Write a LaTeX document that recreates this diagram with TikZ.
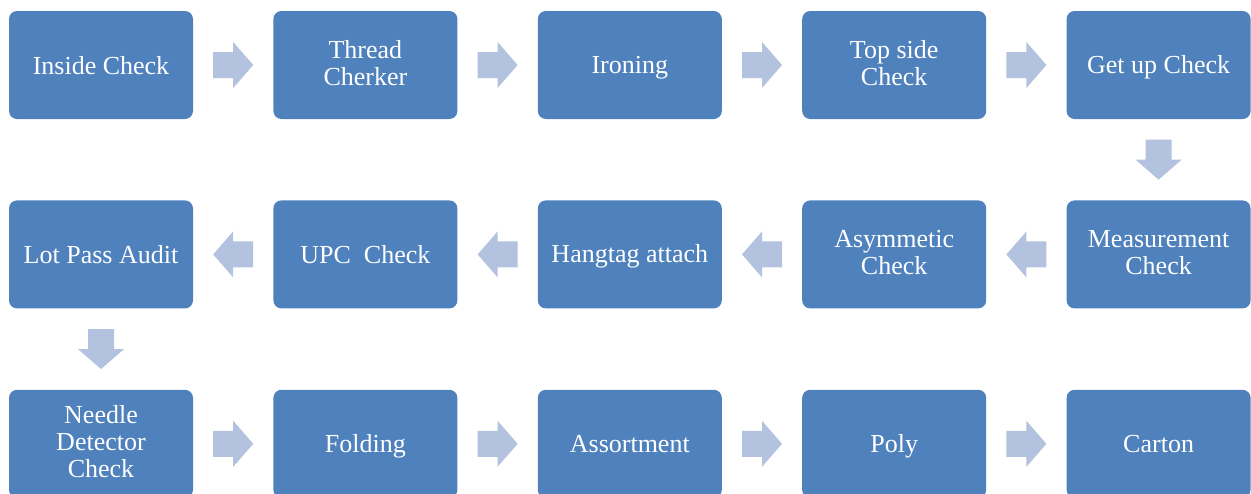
\documentclass[tikz,border=0pt]{standalone}
\usepackage{fontspec}
\setmainfont{Liberation Serif}
\newfontfamily\boxfont{Liberation Serif}
\usepackage{tikz}
\usetikzlibrary{calc,positioning}
\definecolor{boxc}{HTML}{4F81BD}
\definecolor{arrc}{HTML}{B3C2DE}
\tikzset{
  step box/.style={fill=boxc,draw=none,rounded corners=8pt,minimum width=184pt,minimum height=108pt,
    align=center,text=white,font=\boxfont\fontsize{26}{27}\selectfont,inner sep=2pt,
    execute at begin node={\rule{0pt}{22pt}},execute at end node={\rule[-4pt]{0pt}{4pt}}},
  pics/blkarr/.style={code={\fill[arrc] (-20pt,-13pt) -- (0pt,-13pt) -- (0pt,-23pt) -- (20pt,0pt)
    -- (0pt,23pt) -- (0pt,13pt) -- (-20pt,13pt) -- cycle;}}
}
\begin{document}
\begin{tikzpicture}[x=1pt,y=1pt]
\useasboundingbox (0,0) rectangle (1251,-493);
% first row
\node[step box] (inside) at (101,-65) {Inside Check};
\node[step box,right=80pt of inside] (thread) {Thread\\Cherker};
\node[step box,right=80pt of thread] (iron) {Ironing};
\node[step box,right=80pt of iron] (topside) {Top side\\Check};
\node[step box,right=80pt of topside] (getup) {Get up Check};
% second row
\node[step box,below=81pt of getup] (measure) {Measurement\\Check};
\node[step box,left=80pt of measure] (asym) {Asymmetic\\Check};
\node[step box,left=80pt of asym] (hangtag) {Hangtag attach};
\node[step box,left=80pt of hangtag] (upc) {UPC\ \ Check};
\node[step box,left=80pt of upc] (lotpass) {Lot Pass Audit};
% third row
\node[step box,below=81pt of lotpass] (needle) {Needle\\Detector\\Check};
\node[step box,right=80pt of needle] (fold) {Folding};
\node[step box,right=80pt of fold] (assort) {Assortment};
\node[step box,right=80pt of assort] (poly) {Poly};
\node[step box,right=80pt of poly] (carton) {Carton};
% arrows
\pic at ($(inside.east)!0.5!(thread.west)$) {blkarr};
\pic at ($(thread.east)!0.5!(iron.west)$) {blkarr};
\pic at ($(iron.east)!0.5!(topside.west)$) {blkarr};
\pic at ($(topside.east)!0.5!(getup.west)$) {blkarr};
\pic[rotate=-90] at ($(getup.south)!0.5!(measure.north)$) {blkarr};
\pic[rotate=180] at ($(measure.west)!0.5!(asym.east)$) {blkarr};
\pic[rotate=180] at ($(asym.west)!0.5!(hangtag.east)$) {blkarr};
\pic[rotate=180] at ($(hangtag.west)!0.5!(upc.east)$) {blkarr};
\pic[rotate=180] at ($(upc.west)!0.5!(lotpass.east)$) {blkarr};
\pic[rotate=-90] at ($(lotpass.south)!0.5!(needle.north)$) {blkarr};
\pic at ($(needle.east)!0.5!(fold.west)$) {blkarr};
\pic at ($(fold.east)!0.5!(assort.west)$) {blkarr};
\pic at ($(assort.east)!0.5!(poly.west)$) {blkarr};
\pic at ($(poly.east)!0.5!(carton.west)$) {blkarr};
\end{tikzpicture}
\end{document}
